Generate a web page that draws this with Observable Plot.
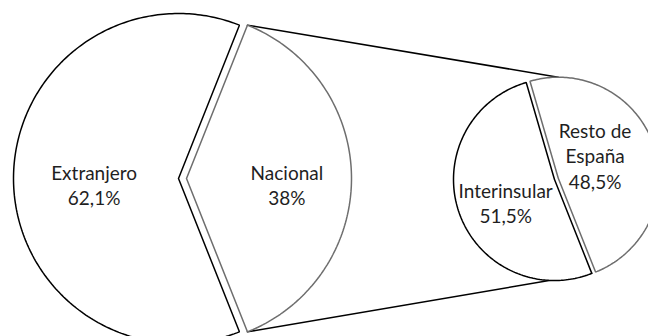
<!DOCTYPE html>
<html>
<head>
<meta charset="utf-8">
<script src="https://cdn.jsdelivr.net/npm/d3@7"></script>
<script src="https://cdn.jsdelivr.net/npm/@observablehq/plot@0.6"></script>
<style>
  html, body { margin: 0; padding: 0; background: #fff; overflow: hidden; }
</style>
</head>
<body>
<div id="chart"></div>
<script>
// ---- data ----
const categories = ["Extranjero", "Nacional"];
const shares = [62.1, 38];
const subCategories = ["Interinsular", "Resto de\nEspaña"];
const subShares = [51.5, 48.5];

// ---- layout (pixels in plot space) ----
const W = 648, H = 336;
const big = {cx: 178, cy: 178, r: 165, explodeIdx: 1, explode: 8};
const small = {cx: 554, cy: 179, r: 101, explodeIdx: 1, explode: 4};
const strokes = ["#000000", "#6e6e6e"];

const rad = d => d * Math.PI / 180;
const fmt = v => String(v).replace(".", ",") + "%";

function layout(values, names, startDeg, g, pieId) {
  const total = d3.sum(values);
  let a = startDeg;
  return values.map((v, i) => {
    const span = v / total * 360;
    const a0 = a, a1 = a + span;
    a = a1;
    const mid = (a0 + a1) / 2;
    const off = i === g.explodeIdx ? g.explode : 0;
    const ox = g.cx + off * Math.cos(rad(mid));
    const oy = g.cy - off * Math.sin(rad(mid));
    const pts = [{x: ox, y: oy}];
    const n = Math.ceil(span);
    for (let k = 0; k <= n; k++) {
      const t = a0 + (a1 - a0) * k / n;
      pts.push({x: ox + g.r * Math.cos(rad(t)), y: oy - g.r * Math.sin(rad(t))});
    }
    pts.push({x: ox, y: oy});
    return {name: names[i], value: v, a0, a1, mid, ox, oy, r: g.r,
            stroke: strokes[i], id: pieId + i,
            points: pts.map(p => ({...p, id: pieId + i, stroke: strokes[i]}))};
  });
}

// big pie: second slice (Nacional) centred on the right
const bigTotal = d3.sum(shares);
const bigStart = shares[1] / bigTotal * 180;
const bigSlices = layout(shares, categories, bigStart, big, "b");
// small pie: first slice ends at the same angle as the big pie's lower split edge
const splitAngle = bigSlices[0].a1;
const smallStart = splitAngle - subShares[0] / d3.sum(subShares) * 360;
const smallSlices = layout(subShares, subCategories, smallStart, small, "s");

const pt = (s, deg) => ({x: s.ox + s.r * Math.cos(rad(deg)), y: s.oy - s.r * Math.sin(rad(deg))});
const nac = bigSlices[1];
const connectors = [
  {...pt(nac, nac.a1), id: "top"},
  {...pt(smallSlices[1], 90), id: "top"},
  {...pt(nac, nac.a0), id: "bot"},
  {...pt(smallSlices[0], smallSlices[0].a1), id: "bot"}
];

function labelPos(s, f, rot) {
  const a = s.mid + rot;
  return {x: s.ox + f * s.r * Math.cos(rad(a)),
          y: s.oy - f * s.r * Math.sin(rad(a)),
          text: s.name + "\n" + fmt(s.value)};
}
const bigLabels = bigSlices.map(s => labelPos(s, 0.56, 0));
const smallLabels = smallSlices.map(s => labelPos(s, 0.48, 9));

const textOpts = {x: "x", y: "y", text: "text", fontSize: 19, lineHeight: 1.32,
  fill: "#1f1f1f", fontFamily: "Lato, 'Open Sans', sans-serif", textAnchor: "middle", lineAnchor: "middle"};

const chart = Plot.plot({
  width: W, height: H,
  margin: 0,
  x: {domain: [0, W], range: [0, W], axis: null},
  y: {domain: [0, H], range: [0, H], axis: null},
  color: {type: "identity"},
  marks: [
    Plot.line(connectors, {x: "x", y: "y", z: "id", stroke: "#000", strokeWidth: 1.5}),
    Plot.line(bigSlices.flatMap(s => s.points), {x: "x", y: "y", z: "id", stroke: "stroke",
      fill: "white", strokeWidth: 1.5, strokeLinejoin: "miter", curve: "linear"}),
    Plot.line(smallSlices.flatMap(s => s.points), {x: "x", y: "y", z: "id", stroke: "stroke",
      fill: "white", strokeWidth: 1.5, strokeLinejoin: "miter", curve: "linear"}),
    Plot.text(bigLabels, {...textOpts, dx: 8, dy: 6}),
    Plot.text(smallLabels, {...textOpts, dx: -6})
  ]
});
document.getElementById("chart").appendChild(chart);
</script>
</body>
</html>
